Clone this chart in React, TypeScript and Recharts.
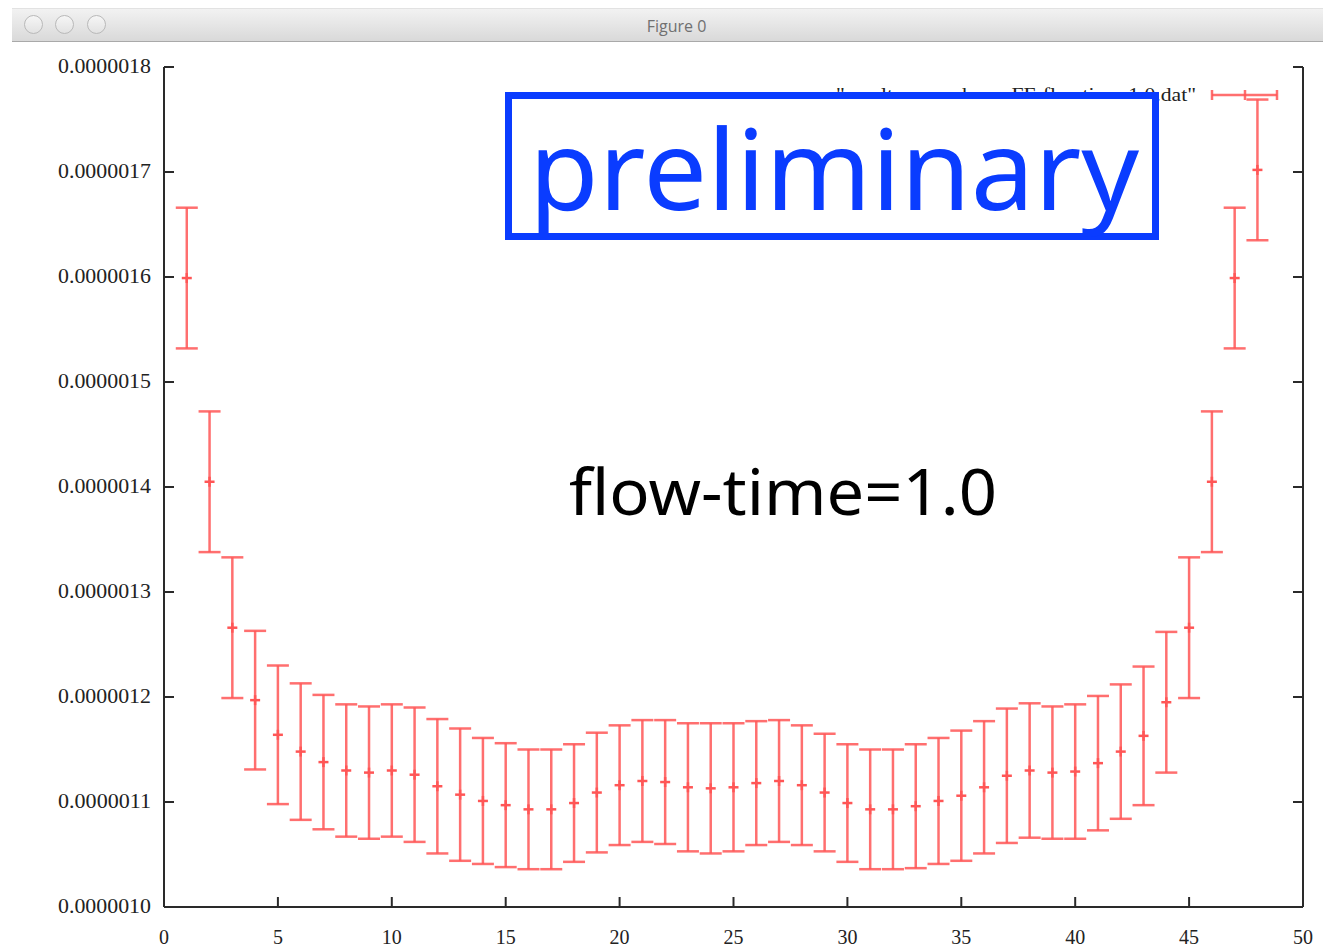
import { ErrorBar, Scatter, ScatterChart, XAxis, YAxis } from "recharts";

// bin index along the cube
const positions = [
  1, 2, 3, 4, 5, 6, 7, 8, 9, 10, 11, 12, 13, 14, 15, 16, 17, 18, 19, 20, 21, 22, 23, 24,
  25, 26, 27, 28, 29, 30, 31, 32, 33, 34, 35, 36, 37, 38, 39, 40, 41, 42, 43, 44, 45, 46, 47, 48,
];

// correlator, in units of 1e-6
const means = [
  1.599, 1.405, 1.266, 1.197, 1.164, 1.148, 1.138, 1.13, 1.128, 1.13, 1.126, 1.115,
  1.107, 1.101, 1.097, 1.093, 1.093, 1.099, 1.109, 1.116, 1.12, 1.119, 1.114, 1.113,
  1.114, 1.118, 1.12, 1.116, 1.109, 1.099, 1.093, 1.093, 1.096, 1.101, 1.106, 1.114,
  1.125, 1.13, 1.128, 1.129, 1.137, 1.148, 1.163, 1.195, 1.266, 1.405, 1.599, 1.702,
];

const errors = [
  0.067, 0.067, 0.067, 0.066, 0.066, 0.065, 0.064, 0.063, 0.063, 0.063, 0.064, 0.064,
  0.063, 0.06, 0.059, 0.057, 0.057, 0.056, 0.057, 0.057, 0.058, 0.059, 0.061, 0.062,
  0.061, 0.059, 0.058, 0.057, 0.056, 0.056, 0.057, 0.057, 0.059, 0.06, 0.062, 0.063,
  0.064, 0.064, 0.063, 0.064, 0.064, 0.064, 0.066, 0.067, 0.067, 0.067, 0.067, 0.067,
];

const xTicks = [0, 5, 10, 15, 20, 25, 30, 35, 40, 45, 50];
const yTicks = [1.0, 1.1, 1.2, 1.3, 1.4, 1.5, 1.6, 1.7, 1.8];

const seriesName = '"result-corr-cubeno-FF-flowtime-1.0.dat"';

const RED = "#ff5656";
const BORDER = "#2a2a2a";

const data = positions.map((x, i) => ({ x, y: means[i], err: errors[i] }));

const serif = "'Liberation Serif', 'DejaVu Serif', serif";

const Plus = (props: any) => {
  const { cx, cy } = props;
  if (cx == null || cy == null) return <g />;
  return (
    <g stroke={RED} strokeWidth={2.5}>
      <line x1={cx - 5} y1={cy} x2={cx + 5} y2={cy} />
      <line x1={cx} y1={cy - 5} x2={cx} y2={cy + 5} />
    </g>
  );
};

const NoTick = () => <g />;

// gnuplot style labels: tall, a bit wider than plain Times
const YLabel = (props: any) => {
  const { x, y, payload } = props;
  return (
    <text
      x={x}
      y={y}
      dy={6}
      textAnchor="end"
      fontFamily={serif}
      fontSize={20}
      fill="#222"
      textLength={93}
      lengthAdjust="spacingAndGlyphs"
    >
      {(payload.value * 1e-6).toFixed(7)}
    </text>
  );
};

export default function App() {
  return (
    <div style={{ position: "absolute", left: 0, top: 0, width: 1323, height: 949, background: "#fff" }}>
      {/* window chrome */}
      <div
        style={{
          position: "absolute",
          left: 12,
          top: 8,
          width: 1311,
          height: 32,
          background: "linear-gradient(#f2f2f2, #d9d9d9)",
          borderBottom: "1px solid #a9a9a9",
          borderTop: "1px solid #e2e2e2",
        }}
      >
        {[21, 52, 84].map((cx) => (
          <div
            key={cx}
            style={{
              position: "absolute",
              left: cx - 9,
              top: 6,
              width: 17,
              height: 17,
              borderRadius: "50%",
              border: "1px solid #b9b9b9",
              background: "linear-gradient(#f6f6f6, #e2e2e2)",
            }}
          />
        ))}
        <div
          style={{
            position: "absolute",
            left: 0,
            width: "100%",
            top: 6,
            textAlign: "center",
            fontFamily: "'Open Sans', 'DejaVu Sans', sans-serif",
            fontSize: 16,
            color: "#707070",
            paddingLeft: 18,
            boxSizing: "border-box",
          }}
        >
          Figure 0
        </div>
      </div>

      <div style={{ position: "absolute", left: 0, top: 0 }}>
        <ScatterChart width={1323} height={949} margin={{ top: 67, right: 0, bottom: 0, left: 0 }}>
          <XAxis
            xAxisId="bottom"
            type="number"
            dataKey="x"
            domain={[0, 50]}
            ticks={xTicks}
            allowDataOverflow
            height={42}
            tickSize={-10}
            tickMargin={33}
            stroke={BORDER}
            strokeWidth={2}
            tick={{ fontFamily: serif, fontSize: 20, fill: "#222" }}
          />
          <XAxis
            xAxisId="top"
            orientation="top"
            type="number"
            dataKey="x"
            domain={[0, 50]}
            ticks={xTicks}
            allowDataOverflow
            height={0}
            tickSize={-10}
            stroke={BORDER}
            strokeWidth={2}
            tick={NoTick}
          />
          <YAxis
            yAxisId="left"
            type="number"
            dataKey="y"
            domain={[1.0, 1.8]}
            ticks={yTicks}
            allowDataOverflow
            width={164}
            tickSize={-10}
            tickMargin={23}
            stroke={BORDER}
            strokeWidth={2}
            tick={YLabel}
          />
          <YAxis
            yAxisId="right"
            orientation="right"
            type="number"
            dataKey="y"
            domain={[1.0, 1.8]}
            ticks={yTicks}
            allowDataOverflow
            width={20}
            tickSize={-10}
            stroke={BORDER}
            strokeWidth={2}
            tick={NoTick}
          />
          <Scatter
            data={data}
            xAxisId="bottom"
            yAxisId="left"
            shape={Plus}
            isAnimationActive={false}
          >
            <ErrorBar
              dataKey="err"
              direction="y"
              width={11}
              stroke={RED}
              strokeWidth={2.5}
              strokeOpacity={0.85}
              isAnimationActive={false}
            />
          </Scatter>
        </ScatterChart>
      </div>

      {/* legend, annotations */}
      <svg
        width={1323}
        height={949}
        style={{ position: "absolute", left: 0, top: 0, pointerEvents: "none" }}
      >
        <text
          x={1196}
          y={101}
          textAnchor="end"
          fontFamily={serif}
          fontSize={18}
          fill="#222"
          textLength={360}
          lengthAdjust="spacingAndGlyphs"
        >
          {seriesName}
        </text>
        <g stroke={RED} strokeWidth={2.5} strokeOpacity={0.85}>
          <line x1={1212} y1={95} x2={1277} y2={95} />
          <line x1={1212} y1={90} x2={1212} y2={100} />
          <line x1={1277} y1={90} x2={1277} y2={100} />
          <line x1={1245} y1={90} x2={1245} y2={100} />
        </g>
        <rect x={508.5} y={95.5} width={647} height={141} fill="#fff" stroke="#0a3cff" strokeWidth={7} />
        <text
          x={529}
          y={210}
          fontFamily="'Noto Sans', 'Open Sans', sans-serif"
          fontSize={112}
          fill="#0a3cff"
          textLength={610}
          lengthAdjust="spacingAndGlyphs"
        >
          preliminary
        </text>
        <text
          x={569}
          y={515}
          fontFamily="'Noto Sans', 'Open Sans', sans-serif"
          fontSize={64}
          fill="#000"
          textLength={428}
          lengthAdjust="spacingAndGlyphs"
        >
          flow-time=1.0
        </text>
      </svg>
    </div>
  );
}
